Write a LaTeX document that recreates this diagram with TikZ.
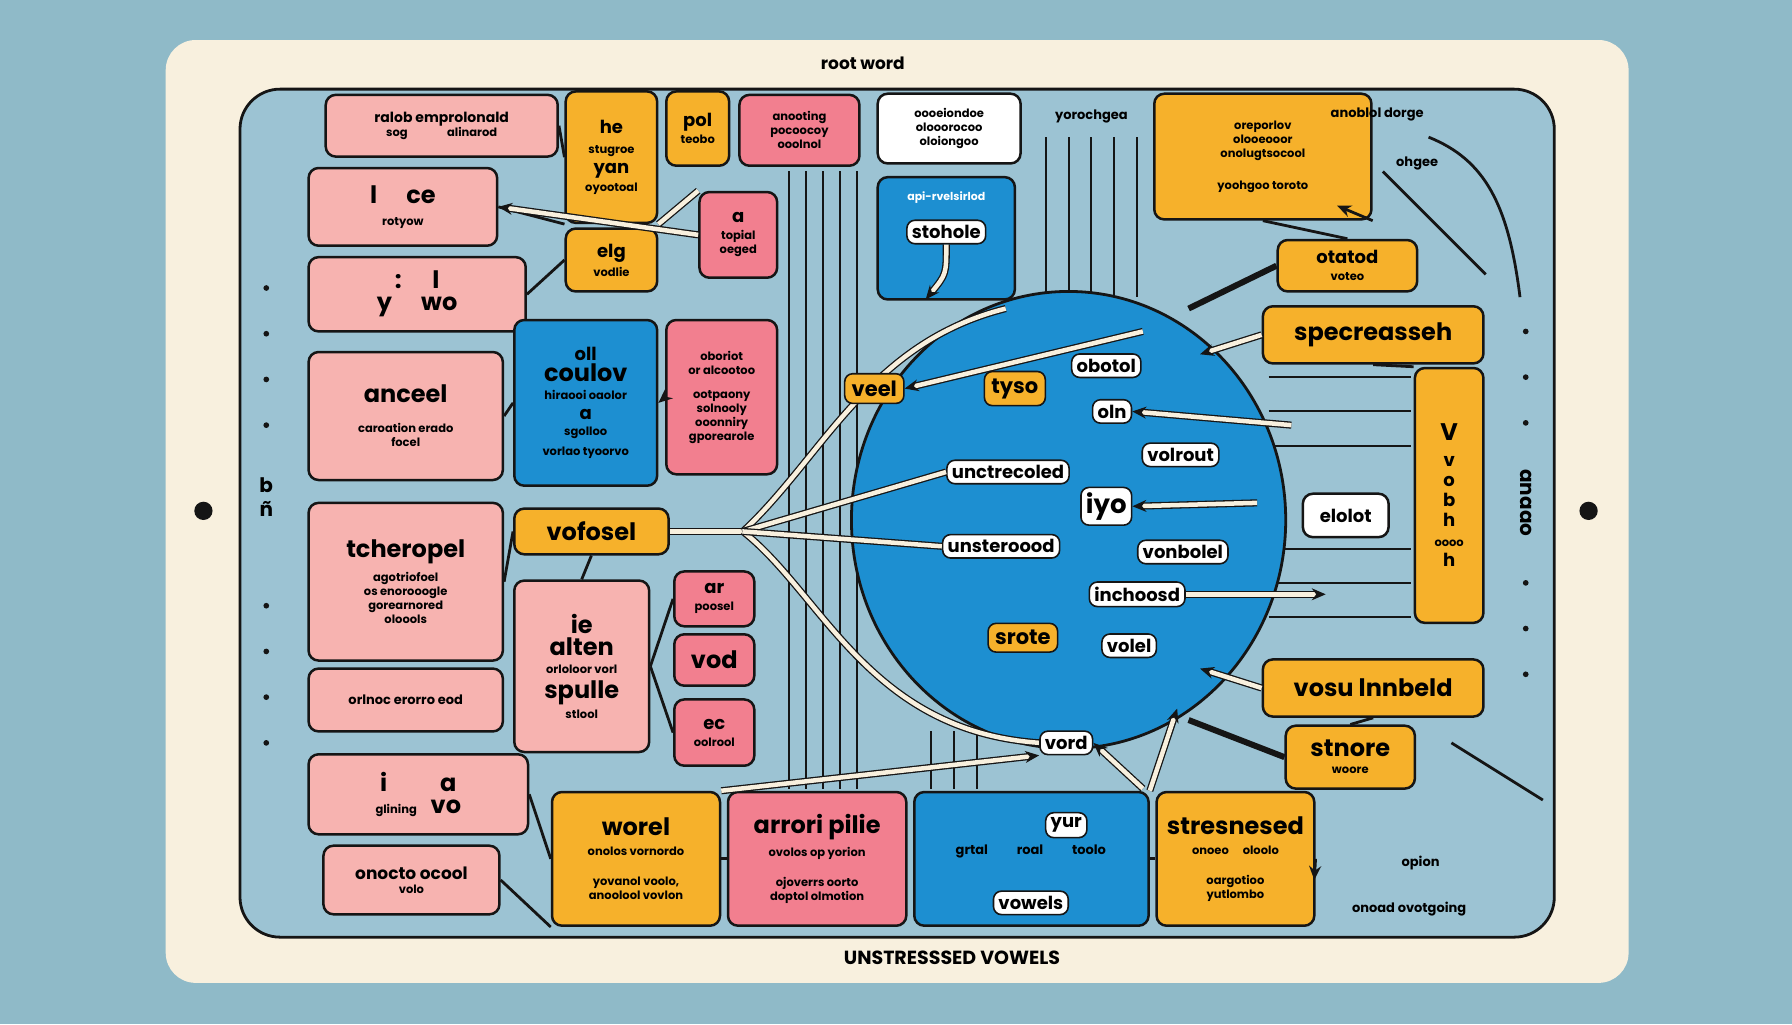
\documentclass[tikz,border=0pt]{standalone}
\usepackage{fontspec}
\setmainfont{Poppins}
\usetikzlibrary{arrows.meta}
\definecolor{bgb}{HTML}{8FBAC8}
\definecolor{cream}{HTML}{F8F0DE}
\definecolor{lb}{HTML}{9CC3D3}
\definecolor{pk}{HTML}{F7B3B0}
\definecolor{hp}{HTML}{F27F8F}
\definecolor{og}{HTML}{F6B12B}
\definecolor{bl}{HTML}{1D8FD1}
\definecolor{ink}{HTML}{151515}
\def\s{1.143}
\newcommand{\bgf}{\bfseries\fontsize{24}{26}\selectfont}
\newcommand{\mdf}{\bfseries\fontsize{18}{20}\selectfont}
\tikzset{
  bx/.style={draw=ink,line width=2.5pt,rounded corners=10pt,align=center,inner sep=1pt,font=\bfseries\fontsize{11.5}{14}\selectfont},
  tag/.style={fill=white,draw=ink,line width=1.6pt,rounded corners=8pt,font=\bfseries\fontsize{18}{20}\selectfont,inner sep=5pt},
  otag/.style={tag,fill=og,font=\bfseries\fontsize{21}{23}\selectfont,inner sep=7pt},
  wl/.style={draw=ink,line width=1.3pt,double=cream,double distance=4.5pt},
  kl/.style={draw=ink,line width=2.8pt},
  ar/.style={-{Stealth[length=14pt,width=12pt]}},
  lab/.style={font=\bfseries\fontsize{13}{15}\selectfont},
}
\newcommand{\bx}[7]{\node[bx,fill=#6,minimum width={\s*(#4-#2)*1pt},minimum height={\s*(#5-#3)*1pt}] (#1) at ({(#2+#4)/2},{(#3+#5)/2}) {#7};}
\begin{document}
\begin{tikzpicture}[x=1.143pt,y=-1.143pt]
\useasboundingbox (0,0) rectangle (1568,896);
\fill[bgb] (0,0) rectangle (1568,896);
\fill[cream,rounded corners=30pt] (145,35) rectangle (1425,860);
\node[font=\bfseries\fontsize{17}{19}\selectfont] (title) at (755,55) {root word};
\node[font=\bfseries\fontsize{19}{21}\selectfont] (btitle) at (833,838) {UNSTRESSSED VOWELS};
\filldraw[lb,draw=ink,line width=2.8pt,rounded corners=40pt] (210,78) rectangle (1360,820);
\fill[ink] (178,447) circle (8) (1390,447) circle (8);
\foreach \y in {252,292,332,372,530,570,610,650} {\fill[ink] (233,\y) circle (2.5);}
\foreach \y in {290,330,370,510,550,590} {\fill[ink] (1335,\y) circle (2.5);}
\node[align=center,font=\bfseries\fontsize{20}{24}\selectfont] (lb1) at (233,435) {b\\ñ};
\node[rotate=-90,font=\bfseries\fontsize{20}{20}\selectfont] (lb2) at (1335,440) {anaao};
% vertical stripes
\foreach \x in {690,705,720,735,750} {\draw[kl,line width=2pt] (\x,150) -- (\x,690);}
\foreach \x in {915,935,955,975,995} {\draw[kl,line width=2pt] (\x,120) -- (\x,260);}
\foreach \x in {815,835,855} {\draw[kl,line width=2pt] (\x,640) -- (\x,690);}
\foreach \y in {330,360,390,480,510,540} {\draw[kl,line width=2pt] (1110,\y) -- (1235,\y);}
\draw[kl] (1250,120) .. controls (1300,140) and (1320,180) .. (1330,260);
\draw[kl] (1270,650) -- (1350,700);
\draw[kl] (1210,150) -- (1300,240);
% central circle
\filldraw[bl,draw=ink,line width=2.8pt] (935,455) ellipse (190 and 200);
% left column
\bx{a1}{285}{83}{488}{137}{pk}{{\fontsize{14}{16}\selectfont ralob emprolonald}\\sog \hspace{3em} alinarod}
\bx{a2}{270}{147}{435}{215}{pk}{{\bgf l \quad ce}\\[8pt]rotyow}
\bx{a3}{270}{225}{460}{290}{pk}{{\bgf : \quad l}\\[8pt]{\bgf y \quad wo}}
\bx{a4}{270}{308}{440}{420}{pk}{{\bgf anceel}\\[16pt]caroation erado\\focel}
\bx{a5}{270}{440}{440}{578}{pk}{{\bgf tcheropel}\\[8pt]agotriofoel\\os enorooogle\\gorearnored\\oloools}
\bx{a6}{270}{585}{440}{640}{pk}{{\fontsize{13}{15}\selectfont orlnoc erorro eod}}
\bx{a7}{270}{660}{462}{730}{pk}{{\bgf i \qquad a}\\[8pt]glining \quad {\bgf vo}}
\bx{a8}{283}{740}{437}{800}{pk}{{\fontsize{17}{19}\selectfont onocto ocool}\\volo}
% second column
\bx{b1}{495}{80}{575}{195}{og}{{\mdf he}\\[6pt]stugroe\\[6pt]{\mdf yan}\\[4pt]oyootoal}
\bx{b2}{495}{200}{575}{255}{og}{{\mdf elg}\\[4pt]vodlie}
\bx{b3}{583}{80}{638}{145}{og}{{\mdf pol}\\[3pt]teobo}
\bx{b4}{647}{83}{752}{145}{hp}{anooting\\pocoocoy\\ooolnol}
\bx{b5}{768}{82}{893}{143}{white}{oooeiondoe\\olooorocoo\\oloiongoo}
\bx{b6}{612}{168}{680}{243}{hp}{{\mdf a}\\[3pt]topial\\oeged}
\bx{b7}{450}{280}{575}{425}{bl}{{\mdf oll}\\[2pt]{\bgf coulov}\\[4pt]hiraooi oaolor\\[6pt]{\mdf a}\\[2pt]sgolloo\\[6pt]vorlao tyoorvo}
\bx{b8}{583}{280}{680}{415}{hp}{oboriot\\or alcootoo\\[10pt]ootpaony\\solnooly\\ooonniry\\gporearole}
\bx{b9}{450}{445}{585}{485}{og}{{\bgf vofosel}}
\bx{b10}{450}{508}{568}{658}{pk}{{\bgf ie}\\[4pt]{\bgf alten}\\[4pt]orloloor vorl\\[6pt]{\bgf spulle}\\[4pt]stlool}
\bx{b11}{590}{500}{660}{548}{hp}{{\mdf ar}\\[3pt]poosel}
\bx{b12}{590}{555}{660}{600}{hp}{{\bgf vod}}
\bx{b13}{590}{612}{660}{670}{hp}{{\mdf ec}\\[3pt]oolrool}
% bottom row
\bx{c1}{483}{693}{630}{810}{og}{{\bgf worel}\\[6pt]onolos vornordo\\[16pt]yovanol voolo,\\anoolool vovlon}
\bx{c2}{637}{693}{793}{810}{hp}{{\bgf arrori pilie}\\[6pt]ovolos op yorion\\[16pt]ojoverrs oorto\\doptol olmotion}
\bx{c3}{800}{693}{1005}{810}{bl}{}
\node[tag] (yr) at (933,722) {yur};
\node[lab] (gr) at (902,745) {grtal \qquad roal \qquad toolo};
\node[tag] (vw) at (902,790) {vowels};
\bx{c4}{1012}{693}{1150}{810}{og}{{\bgf stresnesed}\\[6pt]onoeo \quad oloolo\\[16pt]oargotioo\\yutlombo}
% right
\bx{d1}{1010}{82}{1200}{192}{og}{oreporlov\\olooeooor\\onolugtsocool\\[18pt]yoohgoo toroto}
\bx{d2}{1118}{210}{1240}{255}{og}{{\mdf otatod}\\[3pt]voteo}
\bx{d3}{1105}{268}{1298}{318}{og}{{\bgf specreasseh}}
\bx{d4}{1238}{322}{1298}{545}{og}{{\bgf V}\\[12pt]{\mdf v}\\[6pt]{\mdf o}\\[6pt]{\mdf b}\\[6pt]{\mdf h}\\[6pt]oooo\\[6pt]{\mdf h}}
\bx{d5}{1140}{432}{1215}{470}{white}{{\mdf elolot}}
\bx{d6}{1105}{577}{1298}{627}{og}{{\bgf vosu lnnbeld}}
\bx{d7}{1125}{635}{1238}{690}{og}{{\bgf stnore}\\[3pt]woore}
\bx{d8}{768}{155}{888}{262}{bl}{}
\node[lab,font=\bfseries\fontsize{11}{13}\selectfont,text=white] (ap) at (828,173) {api-rvelsirlod};
\node[tag] (sh) at (828,203) {stohole};
\node[lab] (t1) at (1205,100) {anoblol dorge};
\node[lab] (t2) at (1240,143) {ohgee};
\node[lab] (t3) at (1243,755) {opion};
\node[lab] (t4) at (1233,795) {onoad ovotgoing};
\node[lab] (t5) at (955,102) {yorochgea};
% inside circle
\node[tag] (e1) at (968,320) {obotol};
\node[tag] (e2) at (973,360) {oln};
\node[tag] (e3) at (1033,398) {volrout};
\node[tag,font=\bfseries\fontsize{26}{28}\selectfont] (e4) at (968,443) {iyo};
\node[tag] (e5) at (1035,483) {vonbolel};
\node[tag] (e6) at (995,520) {inchoosd};
\node[tag] (e7) at (988,565) {volel};
\node[tag] (e8) at (882,413) {unctrecoled};
\node[tag] (e9) at (876,478) {unsteroood};
\coordinate (hub) at (650,465);
\draw[wl] (b9.east) -- (hub);
\draw[wl] (hub) .. controls (720,400) and (760,300) .. (880,270);
\draw[wl] (hub) .. controls (720,520) and (760,640) .. (910,650);
\node[otag] (o1) at (765,340) {veel};
\node[otag] (o2) at (888,340) {tyso};
\node[otag] (o3) at (895,558) {srote};
\node[tag] (vd) at (933,650) {vord};
% black connectors
\draw[kl] (a1.east) -- (b1.west);
\draw[kl] (a2.east) -- (b1.south west);
\draw[kl] (a3.east) -- (b2.west);
\draw[kl] (a4.east) -- (b7.west);
\draw[kl] (a5.east) -- (b9.west);
\draw[kl] (a7.east) -- (c1.west);
\draw[kl] (a8.east) -- (c1.south west);
\draw[kl] (b9.south) -- (b10.north);
\draw[kl] (b10.east) -- (b11.west);
\draw[kl] (b10.east) -- (b13.west);
\draw[kl] (c1.east) -- (c2.west);
\draw[kl] (c3.east) -- (c4.west);
\draw[kl] (d1.south) -- (d2.north);
\draw[kl] (d3.south) -- (d4.north west);
\draw[kl] (d6.south) -- (d7.north);
\draw[kl,line width=6pt] (d2.west) -- (1040,270);
\draw[kl,line width=6pt] (d7.west) -- (1040,630);
% white connectors
\draw[wl] (hub) -- (e8.west);
\draw[wl] (hub) -- (e9.west);
\draw[wl,ar] (1000,290) -- (o1.east);
\draw[wl,ar] (e6.east) -- (1160,520);
\draw[wl,ar] (1100,440) -- (e4.east);
\draw[wl,ar] (1130,372) -- (e2.east);
\draw[wl,ar] (d3.west) -- (1050,310);
\draw[wl,ar] (d6.west) -- (1050,585);
\draw[wl,ar] (1000,690) -- (vd.east);
\draw[wl,ar] (b8.west) -- (b7.east);
\draw[wl,ar] (b6.west) -- (a2.east);
\draw[wl] (b1.south east) -- (b6.north west);
\draw[wl,ar] (c3.north east) -- (1030,620);
\draw[wl,ar] (c1.north east) -- (vd.south west);
\draw[wl,ar] (sh.south) .. controls (828,240) .. (810,262);
\draw[kl,ar] (c4.east) -- (1150,770);
\draw[kl,ar] (d1.south east) -- (1170,180);
\end{tikzpicture}
\end{document}
